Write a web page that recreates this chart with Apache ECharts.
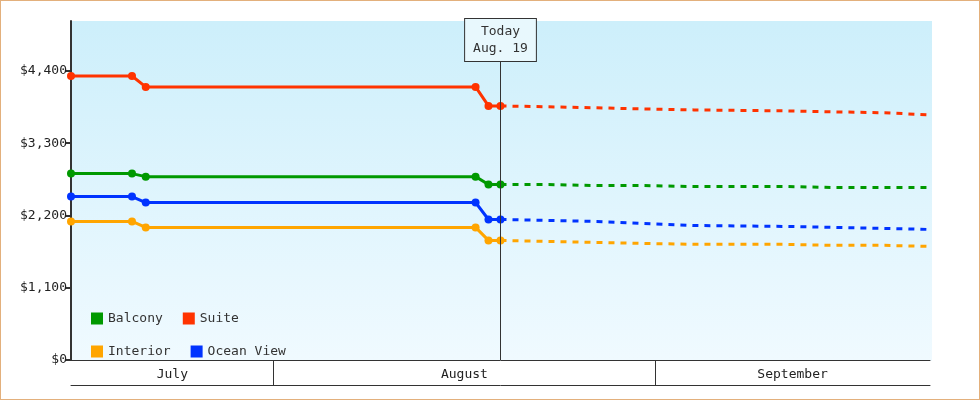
<!DOCTYPE html>
<html><head><meta charset="utf-8">
<script src="https://cdn.jsdelivr.net/npm/echarts@6/dist/echarts.min.js"></script>
<style>html,body{margin:0;padding:0;background:#fff}#c{width:980px;height:400px;box-sizing:border-box;border:1px solid #e3b07c}</style>
</head><body><div id="c"></div>
<script>
// x positions on a 0..100 timeline scale (non-uniform months as in source)
const monthNames = ['July','August','September'];
const monthStarts = [0, 23.6, 68.0, 100];
const todayX = 50.0;
const pastX = [0, 7.1, 8.7, 47.1, 48.6, 50.0];
const futureX = [50.0, 55.6, 61.2, 66.7, 72.5, 83.4, 89.0, 94.7, 100];
const seriesNames = ['Balcony','Suite','Interior','Ocean View'];
const colors = ['#009900','#ff3300','#ffa500','#0033ff'];
const pastValues = {
  'Suite':      [4323, 4323, 4157, 4157, 3868, 3868],
  'Balcony':    [2837, 2837, 2791, 2791, 2670, 2670],
  'Ocean View': [2488, 2488, 2397, 2397, 2139, 2139],
  'Interior':   [2109, 2109, 2018, 2018, 1820, 1820]
};
const futureValues = {
  'Suite':      [3868, 3853, 3838, 3822, 3807, 3792, 3777, 3762, 3732],
  'Balcony':    [2670, 2670, 2655, 2655, 2640, 2640, 2624, 2624, 2624],
  'Ocean View': [2139, 2124, 2109, 2079, 2048, 2033, 2018, 2003, 1987],
  'Interior':   [1820, 1805, 1790, 1775, 1760, 1760, 1745, 1745, 1729]
};
const yTicks = [0,1100,2200,3300,4400];
const todayLabel = 'Today\nAug. 19';

const font = 'DejaVu Sans Mono';
const series = [];
seriesNames.forEach((n,i)=>{
  series.push({name:n,type:'line',color:colors[i],data:pastX.map((x,k)=>[x,pastValues[n][k]]),
    symbol:'circle',symbolSize:8,lineStyle:{width:3},z:3,
    markLine: i===0 ? {silent:true,symbol:'none',lineStyle:{color:'#333',type:'solid',width:1},
      label:{show:true,position:'end',formatter:todayLabel,fontFamily:font,fontSize:13,color:'#333',
        backgroundColor:'#e8f8fd',borderColor:'#333',borderWidth:1,padding:[4,8],lineHeight:17,distance:-40},
      data:[[{coord:[todayX,0]},{coord:[todayX,5160]}]]} : undefined});
  series.push({name:n,type:'line',color:colors[i],data:futureX.map((x,k)=>[x,futureValues[n][k]]),
    symbol:'none',lineStyle:{width:3,type:[6,6]},z:2});
});
const chart = echarts.init(document.getElementById('c'));
chart.setOption({
  animation:false,
  textStyle:{fontFamily:font},
  grid:{left:70,right:49,top:20,bottom:39},
  graphic:[],
  legend:{left:90,top:311,width:200,itemWidth:12,itemHeight:12,itemGap:20,icon:'rect',
    data:seriesNames,textStyle:{fontFamily:font,fontSize:13,color:'#333'},padding:0},
  xAxis:[
    {type:'value',min:0,max:100,position:'bottom',
      axisLine:{show:true,lineStyle:{color:'#333',width:1}},
      axisTick:{show:true,customValues:monthStarts.slice(1,3),length:25,lineStyle:{color:'#333'}},
      axisLabel:{customValues:[11.8,45.8,84],formatter:v=>monthNames[[11.8,45.8,84].indexOf(v)]||'',
        fontFamily:font,fontSize:13,color:'#222',margin:8},
      splitLine:{show:false}},
    {type:'value',min:0,max:100,position:'bottom',offset:25,
      axisLine:{show:true,lineStyle:{color:'#333'}},axisTick:{show:false},axisLabel:{show:false},splitLine:{show:false}}
  ],
  yAxis:{type:'value',min:0,max:5160,interval:1100,
    axisLine:{show:true,lineStyle:{color:'#333',width:2}},
    axisTick:{show:true,length:6,lineStyle:{color:'#333',width:2}},
    axisLabel:{formatter:v=>yTicks.includes(v)?'$'+v.toLocaleString('en-US'):'',fontFamily:font,fontSize:13,color:'#222',margin:4,showMaxLabel:false},
    splitLine:{show:false},
    splitArea:{show:false}},
  series:series
});
// background gradient on plot area
chart.setOption({graphic:[{type:'rect',z:-10,shape:{x:70,y:20,width:861,height:340},
  style:{fill:new echarts.graphic.LinearGradient(0,0,0,1,[{offset:0,color:'#cdeffb'},{offset:1,color:'#f0faff'}])}}]});
</script></body></html>
